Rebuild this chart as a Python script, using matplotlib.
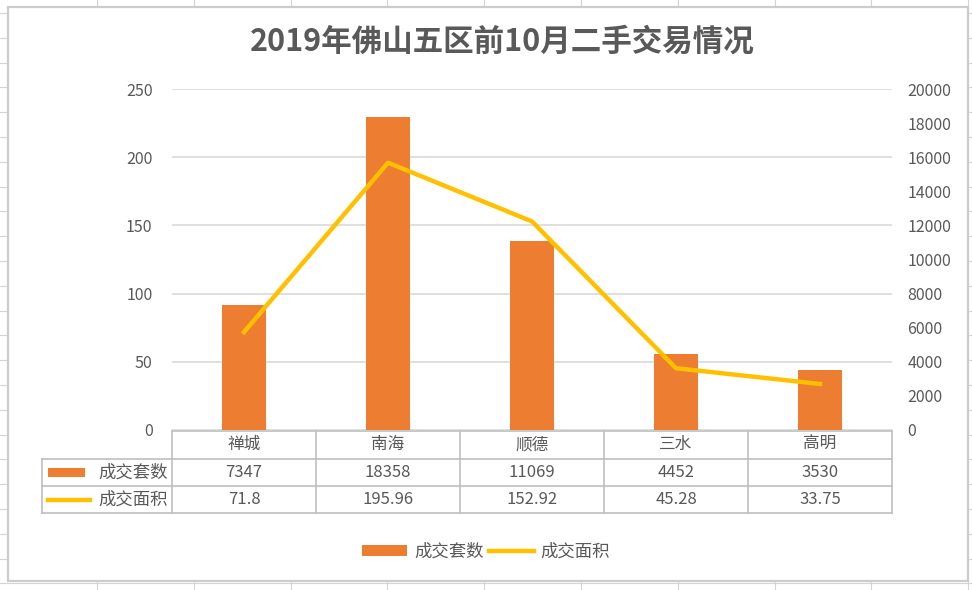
import matplotlib
matplotlib.use("Agg")
import matplotlib.pyplot as plt
import numpy as np
from matplotlib.ticker import MultipleLocator
from matplotlib.transforms import blended_transform_factory
from matplotlib.lines import Line2D
from matplotlib.patches import Patch, Rectangle

plt.rcParams['font.family'] = ['Noto Sans CJK SC', 'DejaVu Sans']

# dati
titolo = "2019年佛山五区前10月二手交易情况"
aree = ["禅城", "南海", "顺德", "三水", "高明"]
taoshu = [7347, 18358, 11069, 4452, 3530]
mianji = [71.8, 195.96, 152.92, 45.28, 33.75]
taoshu_txt = ["7347", "18358", "11069", "4452", "3530"]
mianji_txt = ["71.8", "195.96", "152.92", "45.28", "33.75"]
nome_bar = "成交套数"
nome_linea = "成交面积"

ARANCIO = "#ED7D31"
GIALLO = "#FFC000"
GRIGIO = "#595959"
GRIGLIA = "#D9D9D9"
BORDO = "#BFBFBF"

W, H = 972, 590
fig = plt.figure(figsize=(W / 100, H / 100), dpi=100)

# sfondo tipo foglio excel
bg = fig.add_axes([0, 0, 1, 1], zorder=-1)
bg.set_xlim(0, W)
bg.set_ylim(H, 0)
bg.axis('off')
for xx in np.arange(97, W, 96.8):
    bg.axvline(xx, color="#D4D4D4", lw=0.8, zorder=0)
for yy in np.arange(13, H, 24.8):
    bg.axhline(yy, color="#D4D4D4", lw=0.8, zorder=0)
bg.add_patch(Rectangle((8, 7), 960, 574, facecolor='white', edgecolor='#CCCCCC', lw=1.6, zorder=1))

# asse principale: barre (scala destra)
ax = fig.add_axes([172 / W, 1 - 430 / H, 720 / W, 341 / H])
x = np.arange(len(aree))
ax.bar(x, taoshu, width=0.31, color=ARANCIO, zorder=2)
ax.set_xlim(-0.5, len(aree) - 0.5)
ax.set_ylim(0, 20000)
ax.yaxis.set_major_locator(MultipleLocator(2000))
ax.yaxis.set_minor_locator(MultipleLocator(4000))
ax.yaxis.remove_overlapping_locs = False
ax.grid(which='minor', axis='y', color=GRIGLIA, lw=1.2, zorder=0)
ax.set_axisbelow(True)
ax.set_xticks([])

# asse gemello: linea (scala sinistra)
ax2 = ax.twinx()
ax2.plot(x, mianji, color=GIALLO, lw=3.2)
ax2.set_ylim(0, 250)
ax2.yaxis.set_major_locator(MultipleLocator(50))

# twinx rimette le etichette: le sposto dopo
ax.yaxis.tick_right()
ax2.yaxis.tick_left()
ax.tick_params(which='both', length=0)
ax.tick_params(axis='y', pad=11, labelsize=11.5, labelcolor=GRIGIO)
ax2.tick_params(length=0, pad=14, labelsize=11.5, labelcolor=GRIGIO)

for a in (ax, ax2):
    for s in a.spines.values():
        s.set_visible(False)

# tabella dati sotto il grafico
tr = blended_transform_factory(ax.transData, bg.transData)
righe = [431, 458.5, 486, 513]
bg.plot([172, 892], [righe[0]] * 2, color=BORDO, lw=1.2, zorder=3)
for yy in righe[1:]:
    bg.plot([42, 892], [yy] * 2, color=BORDO, lw=1.2, zorder=3)
for i in range(len(aree) + 1):
    ax.plot([i - 0.5] * 2, [righe[0], righe[-1]], transform=tr, color=BORDO, lw=1.2, clip_on=False, zorder=3)
bg.plot([42, 42], [righe[1], righe[-1]], color=BORDO, lw=1.2, zorder=3)

for i, nome in enumerate(aree):
    ax.text(i, (righe[0] + righe[1]) / 2, nome, transform=tr, ha='center', va='center',
            fontsize=12, color=GRIGIO, clip_on=False)
    ax.text(i, (righe[1] + righe[2]) / 2, taoshu_txt[i], transform=tr, ha='center', va='center',
            fontsize=12, color=GRIGIO, clip_on=False)
    ax.text(i, (righe[2] + righe[3]) / 2, mianji_txt[i], transform=tr, ha='center', va='center',
            fontsize=12, color=GRIGIO, clip_on=False)

bg.add_patch(Rectangle((48, 468), 37, 9, facecolor=ARANCIO, edgecolor='none', zorder=3))
bg.plot([48, 90], [499.5, 499.5], color=GIALLO, lw=3.2, zorder=3)
bg.text(168, (righe[1] + righe[2]) / 2, nome_bar, ha='right', va='center', fontsize=12.5, color=GRIGIO, zorder=3)
bg.text(168, (righe[2] + righe[3]) / 2, nome_linea, ha='right', va='center', fontsize=12.5, color=GRIGIO, zorder=3)

# titolo e legenda
fig.text(502 / W, 1 - 42 / H, titolo, ha='center', va='center', fontsize=22,
         fontweight='bold', color=GRIGIO)

maniglie = [Patch(facecolor=ARANCIO, edgecolor='none'), Line2D([], [], color=GIALLO, lw=3.2)]
fig.legend(maniglie, [nome_bar, nome_linea], loc='center', bbox_to_anchor=(0.5, 1 - 552 / H),
           ncol=2, frameon=False, fontsize=12.5, labelcolor=GRIGIO, handlelength=2.6,
           handletextpad=0.4, columnspacing=0.3, handleheight=0.6)

fig.savefig("out.png", dpi=100)
